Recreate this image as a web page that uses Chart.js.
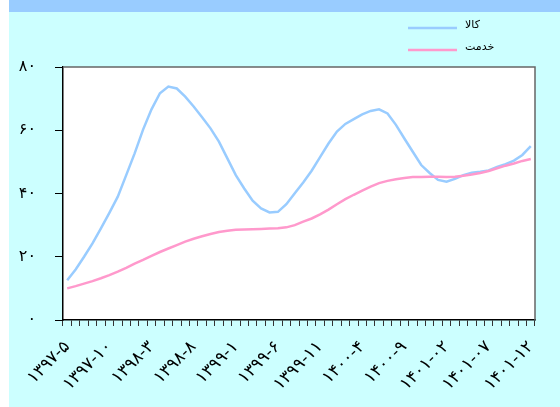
<!DOCTYPE html>
<html>
<head>
<meta charset="utf-8">
<script src="https://cdn.jsdelivr.net/npm/chart.js@4.4.1/dist/chart.umd.min.js"></script>
<style>
  html, body { margin: 0; padding: 0; background: #fff; }
  #wrap { width: 560px; height: 407px; position: relative; }
</style>
</head>
<body>
<div id="wrap"><canvas id="chart"></canvas></div>
<script>
// months from 1397-5 to 1401-12
var months = [
  '1397-5','1397-6','1397-7','1397-8','1397-9','1397-10','1397-11','1397-12',
  '1398-1','1398-2','1398-3','1398-4','1398-5','1398-6','1398-7','1398-8','1398-9','1398-10','1398-11','1398-12',
  '1399-1','1399-2','1399-3','1399-4','1399-5','1399-6','1399-7','1399-8','1399-9','1399-10','1399-11','1399-12',
  '1400-1','1400-2','1400-3','1400-4','1400-5','1400-6','1400-7','1400-8','1400-9','1400-10','1400-11','1400-12',
  '1401-1','1401-2','1401-3','1401-4','1401-5','1401-6','1401-7','1401-8','1401-9','1401-10','1401-11','1401-12'
];

// labels shown on the x axis (every 5th month)
var xTickLabels = ['۱۳۹۷-۵','۱۳۹۷-۱۰','۱۳۹۸-۳','۱۳۹۸-۸','۱۳۹۹-۱','۱۳۹۹-۶','۱۳۹۹-۱۱','۱۴۰۰-۴','۱۴۰۰-۹','۱۴۰۱-۰۲','۱۴۰۱-۰۷','۱۴۰۱-۱۲'];
var yTickLabels = ['۰','۲۰','۴۰','۶۰','۸۰'];

var seriesNames = ['کالا', 'خدمت'];

// goods
var goods = [
  12.6, 16.0, 20.0, 24.2, 29.0, 33.9, 39.0, 45.8, 52.7, 60.2,
  66.6, 71.7, 73.8, 73.2, 70.6, 67.5, 64.1, 60.6, 56.4, 51.1,
  45.8, 41.6, 37.7, 35.3, 34.0, 34.2, 36.6, 40.1, 43.5, 47.2,
  51.5, 55.8, 59.6, 62.0, 63.5, 65.0, 66.1, 66.6, 65.3, 61.7,
  57.4, 53.2, 49.0, 46.5, 44.3, 43.7, 44.6, 45.8, 46.6, 46.9,
  47.3, 48.4, 49.3, 50.4, 52.2, 55.0
];

// services
var services = [
  10.0, 10.7, 11.5, 12.3, 13.2, 14.2, 15.3, 16.5, 17.8, 19.0,
  20.3, 21.5, 22.6, 23.7, 24.8, 25.7, 26.5, 27.2, 27.8, 28.2,
  28.5, 28.6, 28.7, 28.8, 28.9, 29.0, 29.3, 30.0, 31.1, 32.1,
  33.4, 34.9, 36.6, 38.2, 39.6, 40.9, 42.2, 43.3, 44.0, 44.5,
  44.9, 45.2, 45.2, 45.3, 45.3, 45.2, 45.3, 45.6, 46.0, 46.5,
  47.1, 48.0, 48.8, 49.5, 50.3, 50.9
];

var colors = ['#99ccff', '#ff99cc'];

// Backgrounds: white margin, cyan panel, blue top band, white plot area
var backgroundPlugin = {
  id: 'backgrounds',
  beforeDraw: function(chart) {
    var ctx = chart.ctx;
    var a = chart.chartArea;
    ctx.save();
    ctx.fillStyle = '#ffffff';
    ctx.fillRect(0, 0, chart.width, chart.height);
    ctx.fillStyle = '#ccffff';
    ctx.fillRect(9, 0, chart.width - 9, chart.height);
    ctx.fillStyle = '#99ccff';
    ctx.fillRect(9, 0, chart.width - 9, 12);
    ctx.fillStyle = '#ffffff';
    ctx.fillRect(a.left, a.top, a.right - a.left, a.bottom - a.top);
    ctx.restore();
  },
  beforeDatasetsDraw: function(chart) {
    var ctx = chart.ctx;
    var a = chart.chartArea;
    ctx.save();
    ctx.strokeStyle = '#666666';
    ctx.lineWidth = 1.5;
    ctx.beginPath();
    ctx.moveTo(a.left, a.top);
    ctx.lineTo(a.right, a.top);
    ctx.lineTo(a.right, a.bottom);
    ctx.stroke();
    ctx.restore();
  }
};

// Legend at top right: line then label
var legendPlugin = {
  id: 'sideLegend',
  afterDraw: function(chart) {
    var ctx = chart.ctx;
    ctx.save();
    ctx.font = '11px "DejaVu Sans"';
    ctx.textBaseline = 'middle';
    ctx.textAlign = 'left';
    for (var i = 0; i < seriesNames.length; i++) {
      var y = 28 + i * 22;
      ctx.strokeStyle = colors[i];
      ctx.lineWidth = 2.5;
      ctx.beginPath();
      ctx.moveTo(408, y);
      ctx.lineTo(457, y);
      ctx.stroke();
      ctx.fillStyle = '#000';
      ctx.fillText(seriesNames[i], 465, y - 3);
    }
    ctx.restore();
  }
};

var ctx = document.getElementById('chart').getContext('2d');
var chart = new Chart(ctx, {
  type: 'line',
  data: {
    labels: months,
    datasets: [{
      label: seriesNames[0],
      data: goods,
      borderColor: colors[0],
      borderWidth: 2.5,
      pointRadius: 0,
      tension: 0,
      fill: false,
      order: 1
    }, {
      label: seriesNames[1],
      data: services,
      borderColor: colors[1],
      borderWidth: 2.5,
      pointRadius: 0,
      tension: 0,
      fill: false,
      order: 0
    }]
  },
  options: {
    responsive: true,
    maintainAspectRatio: false,
    animation: false,
    layout: {
      padding: { left: 0, right: 25, top: 67, bottom: 0 }
    },
    plugins: {
      legend: { display: false },
      tooltip: { enabled: false }
    },
    scales: {
      x: {
        offset: true,
        grid: {
          offset: true,
          drawOnChartArea: false,
          drawTicks: true,
          tickLength: 6,
          tickColor: '#333'
        },
        border: { color: '#000', width: 1.5 },
        ticks: {
          autoSkip: false,
          minRotation: 45,
          maxRotation: 45,
          padding: 11,
          color: '#000',
          font: { family: 'DejaVu Sans', size: 17 },
          callback: function(value, index) {
            return index % 5 === 0 ? xTickLabels[index / 5] : '';
          }
        },
        afterFit: function(scale) { scale.height = 87; }
      },
      y: {
        min: 0,
        max: 80,
        grid: {
          drawOnChartArea: false,
          drawTicks: true,
          tickLength: 8,
          tickColor: '#000'
        },
        border: { color: '#000', width: 1.5 },
        ticks: {
          stepSize: 20,
          padding: 19,
          color: '#000',
          font: { family: 'DejaVu Sans', size: 16 },
          callback: function(value) { return yTickLabels[value / 20]; }
        },
        afterFit: function(scale) { scale.width = 63; }
      }
    }
  },
  plugins: [backgroundPlugin, legendPlugin]
});
</script>
</body>
</html>
